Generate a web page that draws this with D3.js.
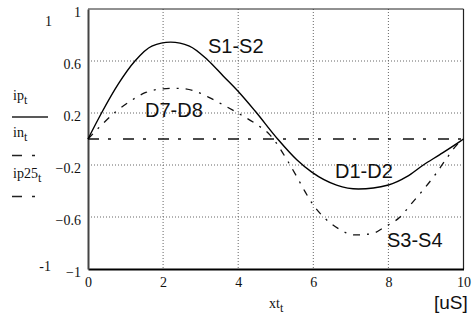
<!DOCTYPE html>
<head>
  <meta charset="utf-8">
  <style>
    body { margin: 0; background: #fff; }
    svg { background-color: #fff; }
    .grid { stroke: #666; stroke-width: 1px; stroke-dasharray: 1,2; fill: none; }
    .curve-label { font-family: "Liberation Sans", Arial, sans-serif; font-size: 20px; fill: #111; }
    .side-label { font-family: "Liberation Serif", "Times New Roman", serif; font-size: 14px; fill: #111; }
  </style>
</head>

<body>
  <svg></svg>
  <script src="https://d3js.org/d3.v7.min.js"></script>
  <script type="text/javascript">
    // values
    let xTicks = [0, 2, 4, 6, 8, 10];
    let yTicks = [1, 0.6, 0.2, -0.2, -0.6, -1];

    // ip_t (solid, S1-S2 / D1-D2)
    let ipX = [0, 0.36, 0.8, 1.25, 1.7, 2.2, 2.7, 3.18, 3.6, 4.05, 4.45, 5.05, 5.56, 5.96, 6.62, 7.2, 8.0, 8.49, 8.93, 9.37, 9.9, 10];
    let ipY = [0, 0.2, 0.42, 0.6, 0.715, 0.745, 0.715, 0.61, 0.485, 0.35, 0.215, 0, -0.16, -0.255, -0.355, -0.385, -0.354, -0.29, -0.2, -0.12, -0.02, 0];

    // ip25_t (dashed, D7-D8 / S3-S4)
    let ip25X = [0, 0.36, 0.74, 1.12, 1.54, 1.96, 2.4, 2.85, 3.29, 3.69, 4.05, 4.45, 4.85, 5.33, 5.56, 5.78, 6.0, 6.31, 6.67, 7.1, 7.56, 7.91, 8.31, 8.62, 8.93, 9.24, 9.55, 9.82, 10];
    let ip25Y = [0, 0.108, 0.21, 0.29, 0.358, 0.385, 0.39, 0.368, 0.31, 0.248, 0.19, 0.12, 0.03, -0.175, -0.29, -0.405, -0.508, -0.61, -0.69, -0.738, -0.728, -0.675, -0.6, -0.495, -0.39, -0.277, -0.149, -0.046, 0];

    // in_t (dash-dot)
    let inX = [0, 10];
    let inY = [0, 0];

    let width = 475, height = 320;
    let serif = '"Liberation Serif", "Times New Roman", serif';
    let svg = d3.select('svg').attr('width', width).attr('height', height);

    let x = d3.scaleLinear().domain([0, 10]).range([88, 463.5]);
    let y = d3.scaleLinear().domain([-1, 1]).range([269, 9]);

    // grid
    let g = svg.append('g');
    g.selectAll('.vgrid').data([2, 4, 6, 8]).enter().append('line')
        .attr('class', 'grid')
        .attr('x1', d => x(d)).attr('x2', d => x(d))
        .attr('y1', y(1)).attr('y2', y(-1));
    g.selectAll('.hgrid').data([0.6, 0.2, -0.2, -0.6]).enter().append('line')
        .attr('class', 'grid')
        .attr('x1', x(0)).attr('x2', x(10))
        .attr('y1', d => y(d)).attr('y2', d => y(d));

    // frame
    svg.append('line').attr('x1', x(0)).attr('x2', x(10)).attr('y1', y(1)).attr('y2', y(1))
        .attr('stroke', '#222').attr('stroke-width', 1);
    svg.append('line').attr('x1', x(10)).attr('x2', x(10)).attr('y1', y(1)).attr('y2', y(-1))
        .attr('stroke', '#222').attr('stroke-width', 1.2);

    // axes
    let xAxis = d3.axisBottom(x).tickValues(xTicks).tickSize(0).tickPadding(8).tickFormat(d3.format('d'));
    let xg = svg.append('g').attr('transform', 'translate(0,' + y(-1) + ')').call(xAxis);
    xg.select('.domain').attr('stroke', '#000').attr('stroke-width', 2);
    xg.selectAll('text').attr('fill', '#111').style('font-family', serif).style('font-size', '14px');

    let yfmt = d => (d < 0 ? '\u2212' : '') + (Math.abs(d) === 1 ? '1' : d3.format('.1f')(Math.abs(d)));
    let yAxis = d3.axisLeft(y).tickValues(yTicks).tickSize(0).tickPadding(7).tickFormat(yfmt);
    let yg = svg.append('g').attr('transform', 'translate(' + x(0) + ',0)').call(yAxis);
    yg.select('.domain').attr('stroke', '#444').attr('stroke-width', 2);
    yg.selectAll('text').attr('fill', '#111').attr('dy', '0.55em')
        .style('font-family', serif).style('font-size', '14px');

    // curves
    let line = d3.line().x(d => x(d[0])).y(d => y(d[1])).curve(d3.curveMonotoneX);

    svg.append('path').datum(d3.zip(inX, inY)).attr('d', line)
        .attr('fill', 'none').attr('stroke', '#111').attr('stroke-width', 1.5)
        .attr('stroke-dasharray', '11,9,3,12');

    svg.append('path').datum(d3.zip(ip25X, ip25Y)).attr('d', line)
        .attr('fill', 'none').attr('stroke', '#111').attr('stroke-width', 1.3)
        .attr('stroke-dasharray', '7,7,2,7');

    svg.append('path').datum(d3.zip(ipX, ipY)).attr('d', line)
        .attr('fill', 'none').attr('stroke', '#000').attr('stroke-width', 1.4);

    // curve labels
    let labels = [
      { t: 'S1-S2', x: 208, y: 53 },
      { t: 'D7-D8', x: 145, y: 117 },
      { t: 'D1-D2', x: 335, y: 178 },
      { t: 'S3-S4', x: 387, y: 247 }
    ];
    svg.selectAll('.curve-label').data(labels).enter().append('text')
        .attr('class', 'curve-label')
        .attr('x', d => d.x).attr('y', d => d.y)
        .text(d => d.t);
    svg.append('text').attr('class', 'curve-label').attr('x', 434).attr('y', 309)
        .style('font-size', '19px').text('[uS]');

    // x axis name
    let xt = svg.append('text').attr('class', 'side-label').attr('x', 269).attr('y', 308);
    xt.append('tspan').text('xt');
    xt.append('tspan').attr('dy', 4).attr('font-size', 12).text('t');

    // y axis names (left side)
    function subLabel(txt, px, py) {
      let t = svg.append('text').attr('class', 'side-label').attr('x', px).attr('y', py);
      t.append('tspan').text(txt);
      t.append('tspan').attr('dy', 4).attr('font-size', 12).text('t');
    }
    subLabel('ip', 13, 100);
    svg.append('line').attr('x1', 12).attr('x2', 48).attr('y1', 117).attr('y2', 117)
        .attr('stroke', '#222').attr('stroke-width', 1.3);
    subLabel('in', 13, 137);
    svg.append('line').attr('x1', 12).attr('x2', 36).attr('y1', 155.5).attr('y2', 155.5)
        .attr('stroke', '#222').attr('stroke-width', 1.3).attr('stroke-dasharray', '10,10,3,20');
    subLabel('ip25', 13, 178);
    svg.append('line').attr('x1', 12).attr('x2', 36).attr('y1', 196.5).attr('y2', 196.5)
        .attr('stroke', '#222').attr('stroke-width', 1.3).attr('stroke-dasharray', '10,10,3,20');

    // outer limits
    svg.append('text').attr('class', 'side-label').attr('x', 52).attr('y', 26)
        .attr('text-anchor', 'end').text('1');
    svg.append('text').attr('class', 'side-label').attr('x', 51).attr('y', 271)
        .attr('text-anchor', 'end').text('-1');
  </script>
</body>
